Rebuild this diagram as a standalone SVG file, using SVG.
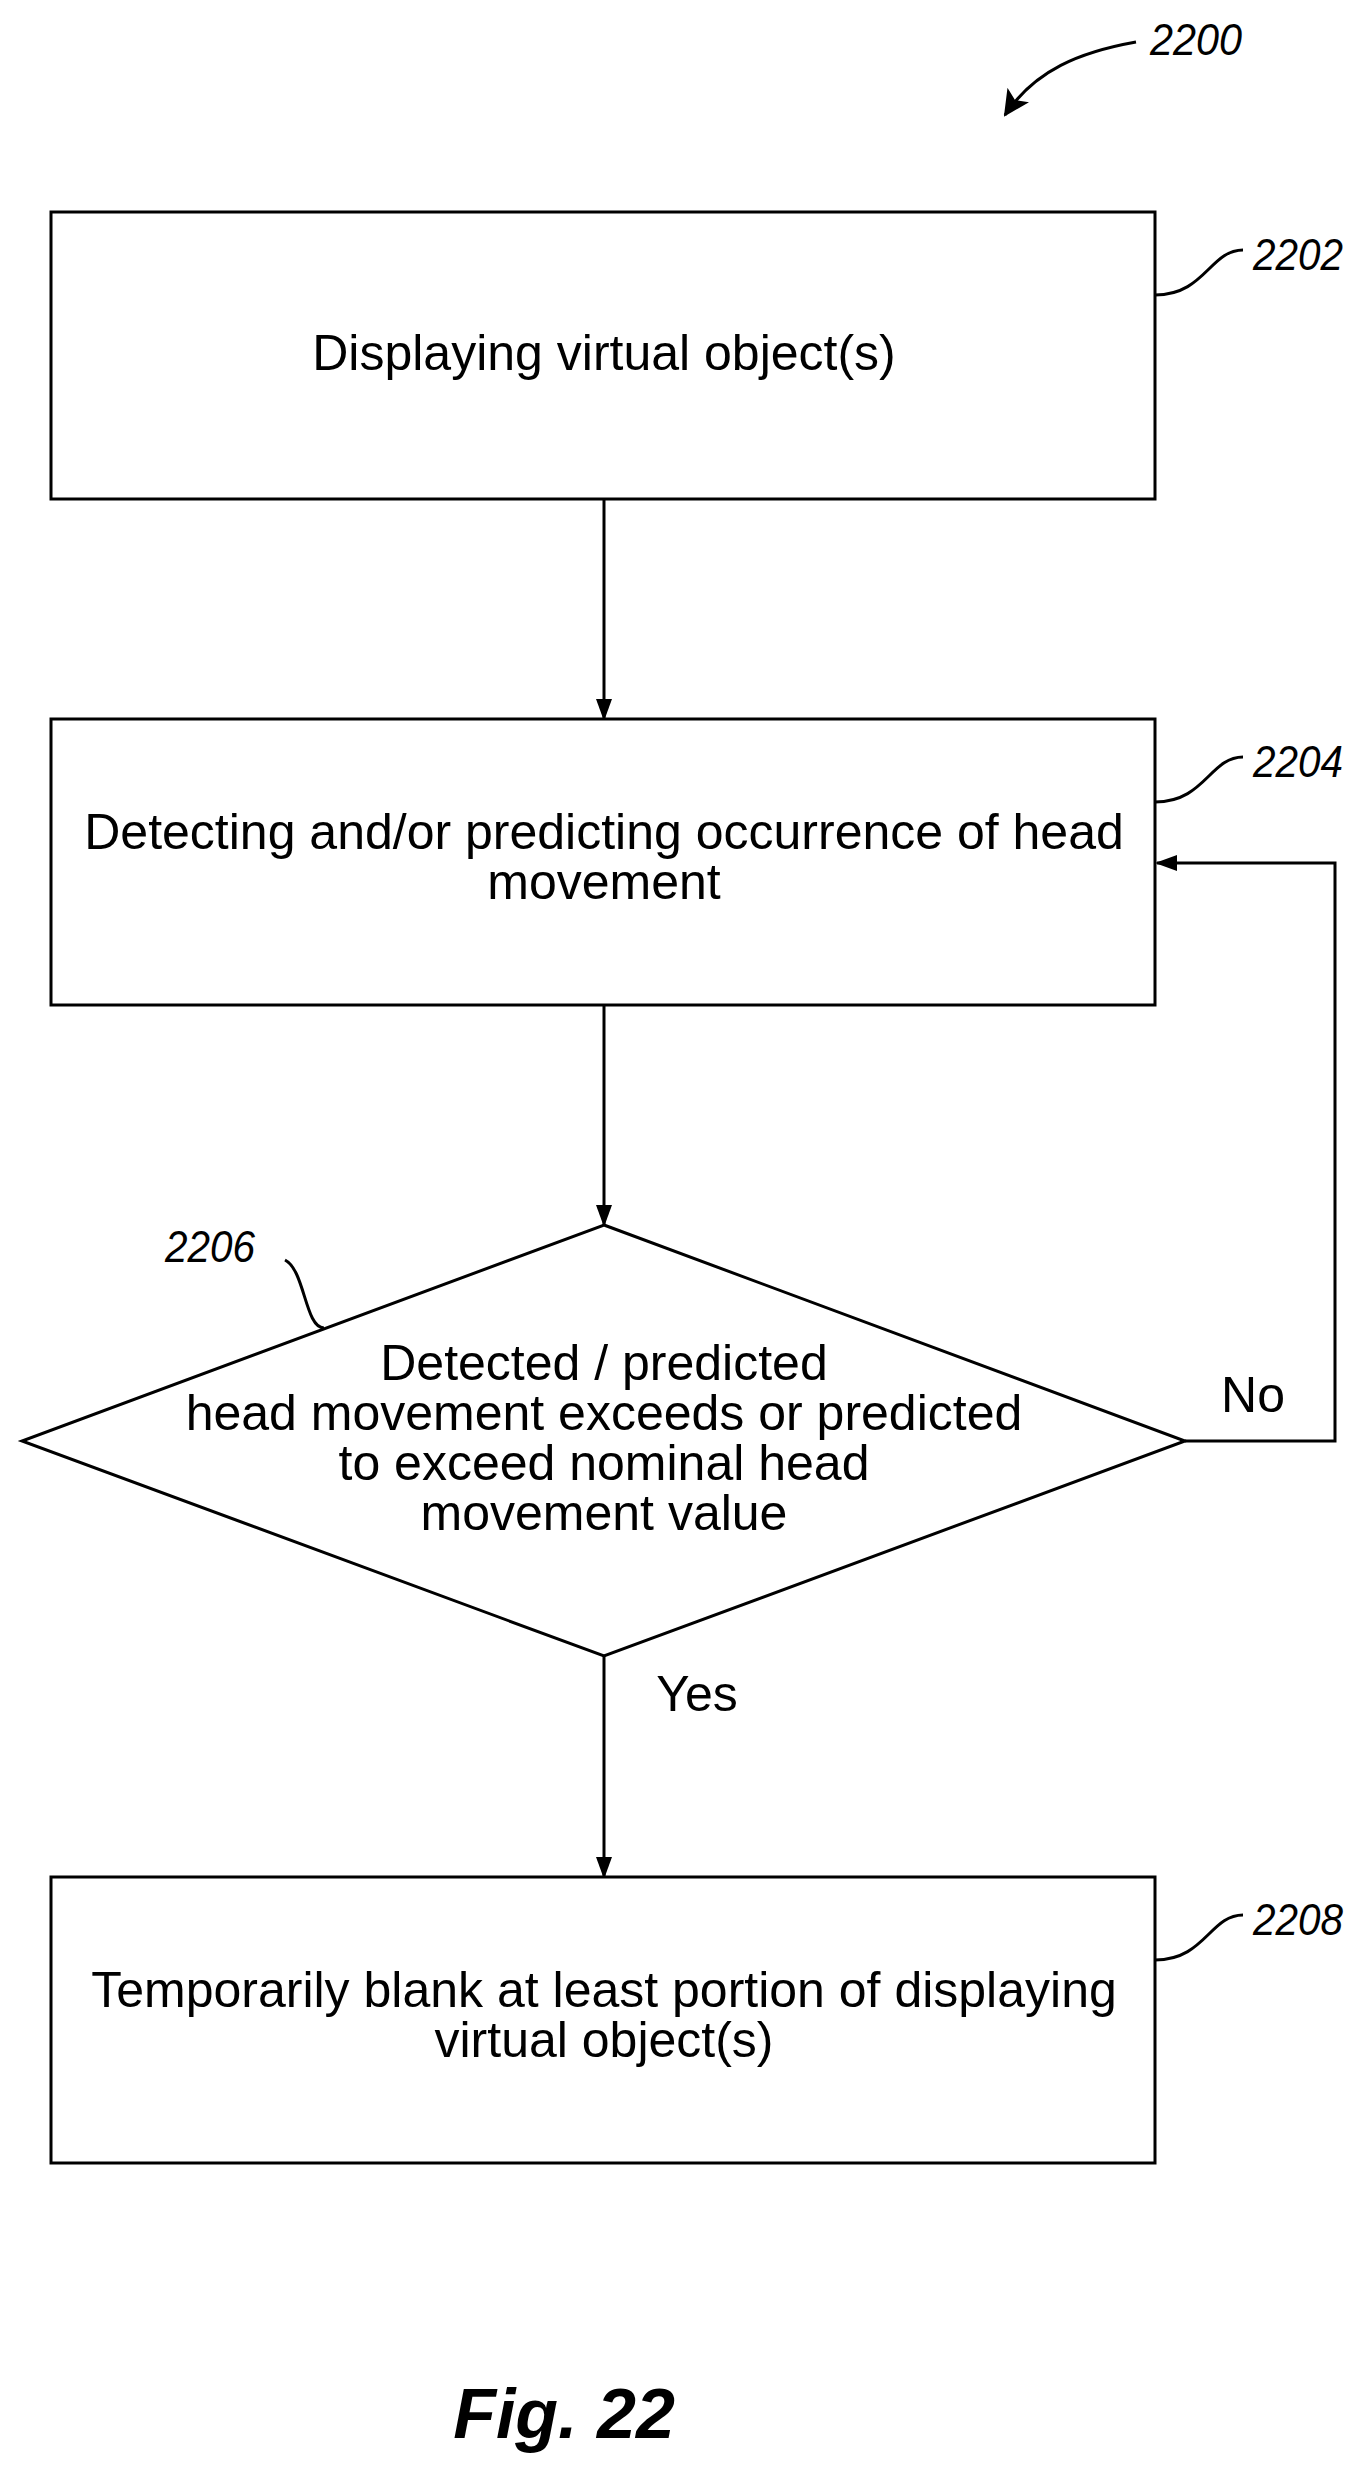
<svg xmlns="http://www.w3.org/2000/svg" width="1364" height="2473" viewBox="0 0 1364 2473">
<style>
.b{fill:#fff;stroke:#000;stroke-width:3}
.c{fill:none;stroke:#000;stroke-width:3}
.t{font-family:"Liberation Sans",Arial,sans-serif;font-size:50px;text-anchor:middle}
.r{font-family:"Liberation Sans",Arial,sans-serif;font-size:44px;font-style:italic}
</style>
<defs><marker id="a" markerWidth="22" markerHeight="16" refX="20" refY="8" orient="auto" markerUnits="userSpaceOnUse" viewBox="0 0 22 16"><path d="M0,0 L22,8 L0,16 Z" fill="#000"/></marker>
<marker id="a2" markerWidth="26" markerHeight="26" refX="24" refY="13" orient="auto" markerUnits="userSpaceOnUse" viewBox="0 0 26 26"><path d="M0,0 L26,13 L0,26 L6,13 Z" fill="#000"/></marker></defs>
<rect width="1364" height="2473" fill="#fff"/>
<g id="connectors">
<path class="c" d="M604,499 V719" marker-end="url(#a)"/>
<path class="c" d="M604,1005 V1225" marker-end="url(#a)"/>
<path class="c" d="M604,1656 V1877" marker-end="url(#a)"/>
<path class="c" d="M1185,1441 H1335 V863 H1157" marker-end="url(#a)"/>
<text class="t" x="1253" y="1412">No</text>
<text class="t" x="697" y="1711">Yes</text>
</g>
<g id="ref2200"><path class="c" d="M1136,42 C1080,52 1035,70 1005,115" marker-end="url(#a2)"/><text class="r" x="1150" y="55" textLength="92" lengthAdjust="spacingAndGlyphs">2200</text></g>
<g id="n2202"><rect class="b" x="51" y="212" width="1104" height="287"/><text class="t" x="604" y="370">Displaying virtual object(s)</text>
<path class="c" d="M1155,295 C1205,295 1210,250 1243,250"/><text class="r" x="1253" y="270" textLength="90" lengthAdjust="spacingAndGlyphs">2202</text></g>
<g id="n2204"><rect class="b" x="51" y="719" width="1104" height="286"/><text class="t" x="604" y="849">Detecting and/or predicting occurrence of head</text><text class="t" x="604" y="899">movement</text>
<path class="c" d="M1155,802 C1205,802 1210,757 1243,757"/><text class="r" x="1253" y="777" textLength="90" lengthAdjust="spacingAndGlyphs">2204</text></g>
<g id="n2206"><polygon class="b" points="604,1225 1185,1441 604,1656 22,1441"/>
<text class="t" x="604" y="1380">Detected / predicted</text><text class="t" x="604" y="1430">head movement exceeds or predicted</text><text class="t" x="604" y="1480">to exceed nominal head</text><text class="t" x="604" y="1530">movement value</text>
<path class="c" d="M324,1328 C305,1328 305,1270 285,1260"/><text class="r" x="165" y="1262" textLength="90" lengthAdjust="spacingAndGlyphs">2206</text></g>
<g id="n2208"><rect class="b" x="51" y="1877" width="1104" height="286"/><text class="t" x="604" y="2007">Temporarily blank at least portion of displaying</text><text class="t" x="604" y="2057">virtual object(s)</text>
<path class="c" d="M1155,1960 C1205,1960 1210,1915 1243,1915"/><text class="r" x="1253" y="1935" textLength="90" lengthAdjust="spacingAndGlyphs">2208</text></g>
<text x="564" y="2438" style="font-family:'Liberation Sans',Arial,sans-serif;font-size:70px;font-weight:bold;font-style:italic;text-anchor:middle">Fig. 22</text>
</svg>
